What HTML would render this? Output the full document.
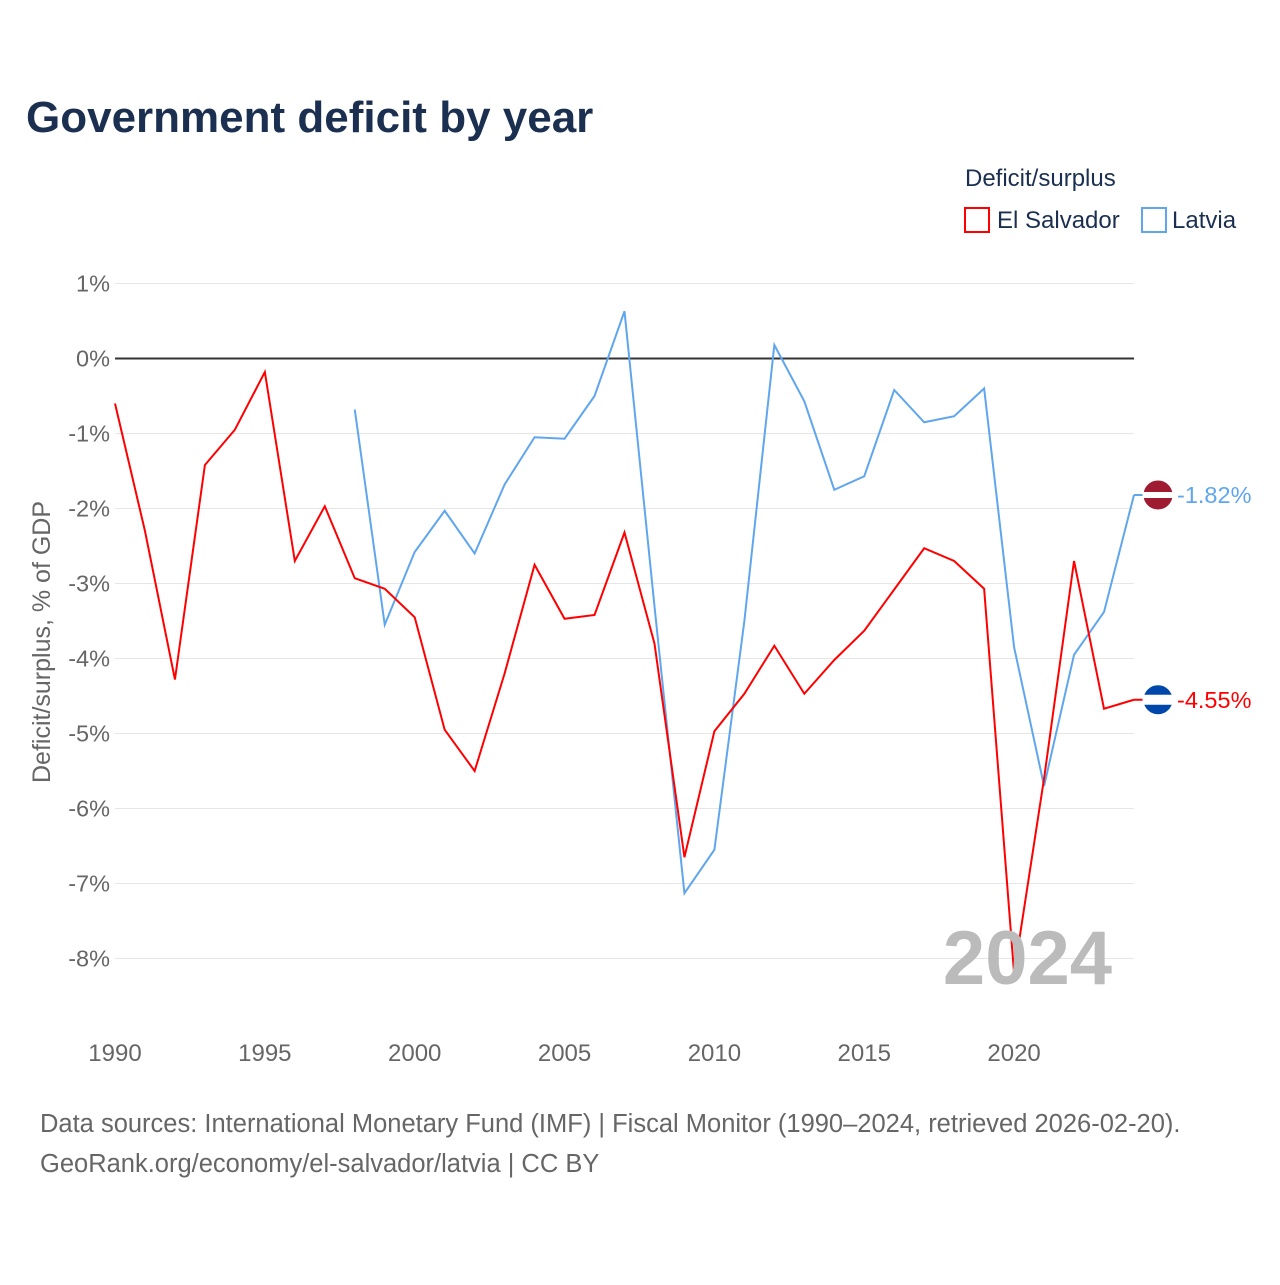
<!DOCTYPE html>
<html><head><meta charset="utf-8"><style>
body{margin:0;background:#fff;font-family:"Liberation Sans",sans-serif;}
#wrap{position:relative;width:1280px;height:1280px;}
</style></head><body>
<div id="wrap">
<svg id="chart" width="1280" height="1280">
<text x="26" y="132" font-size="44" font-weight="bold" fill="#1b3050">Government deficit by year</text>
<text x="965" y="186" font-size="24" fill="#1b3050">Deficit/surplus</text>
<g><rect x="965" y="208" width="24" height="24" fill="none" stroke="#f00" stroke-width="2"/><text x="997" y="228" font-size="24" fill="#1b3050">El Salvador</text></g>
<g><rect x="1142" y="208" width="24" height="24" fill="none" stroke="#5fa6ee" stroke-width="2"/><text x="1172" y="228" font-size="24" fill="#1b3050">Latvia</text></g>
<g id="grid"></g><g id="yt"></g><g id="xt"></g><g id="lines"></g>
<text x="0" y="0" transform="translate(50,642) rotate(-90)" text-anchor="middle" font-size="25" fill="#666">Deficit/surplus, % of GDP</text>
<text x="1112" y="984" text-anchor="end" font-size="76" font-weight="bold" fill="#bbb">2024</text>
<text x="40" y="1132" font-size="25.5" fill="#666">Data sources: International Monetary Fund (IMF) | Fiscal Monitor (1990–2024, retrieved 2026-02-20).</text>
<text x="40" y="1172" font-size="25.5" fill="#666">GeoRank.org/economy/el-salvador/latvia | CC BY</text>
</svg></div>
<script>
const yTicks=[1,0,-1,-2,-3,-4,-5,-6,-7,-8];
const xTicks=[1990,1995,2000,2005,2010,2015,2020];
const elsYears=[1990,1991,1992,1993,1994,1995,1996,1997,1998,1999,2000,2001,2002,2003,2004,2005,2006,2007,2008,2009,2010,2011,2012,2013,2014,2015,2016,2017,2018,2019,2020,2021,2022,2023,2024];
const elsValues=[-0.6,-2.3,-4.28,-1.42,-0.95,-0.18,-2.7,-1.97,-2.93,-3.07,-3.45,-4.95,-5.5,-4.2,-2.75,-3.47,-3.42,-2.32,-3.8,-6.65,-4.97,-4.47,-3.83,-4.47,-4.02,-3.63,-3.08,-2.53,-2.7,-3.07,-8.2,-5.6,-2.7,-4.67,-4.55];
const lvaYears=[1998,1999,2000,2001,2002,2003,2004,2005,2006,2007,2008,2009,2010,2011,2012,2013,2014,2015,2016,2017,2018,2019,2020,2021,2022,2023,2024];
const lvaValues=[-0.68,-3.55,-2.58,-2.03,-2.6,-1.68,-1.05,-1.07,-0.5,0.63,-3.3,-7.13,-6.55,-3.5,0.18,-0.57,-1.75,-1.57,-0.42,-0.85,-0.77,-0.4,-3.85,-5.7,-3.95,-3.38,-1.82];
const NS='http://www.w3.org/2000/svg';
const X=y=>115+(y-1990)*29.97;
const Y=v=>358.5-75*v;
function mk(t,a,p){const e=document.createElementNS(NS,t);for(const k in a)e.setAttribute(k,a[k]);document.getElementById(p).appendChild(e);return e;}
yTicks.forEach(v=>{
 const l=mk('line',{x1:115,x2:1134,y1:Y(v),y2:Y(v),stroke:v===0?'#333':'#e6e6e6','stroke-width':v===0?2:1},'grid');
 
 
 const t=mk('text',{x:110,y:Y(v)+8,'text-anchor':'end','font-size':23.5,fill:'#666'},'yt');
 t.textContent=v+'%';
 
 
});
xTicks.forEach(y=>{
 const t=mk('text',{x:X(y),y:1061,'text-anchor':'middle','font-size':24,fill:'#666'},'xt');
 t.textContent=y;
 
 
});
function series(ys,vs,col,name){
 const p=mk('polyline',{points:ys.map((y,i)=>X(y)+','+Y(vs[i])).join(' '),fill:'none',stroke:col,'stroke-width':2},'lines');
 
 
 const last=vs[vs.length-1],ly=Y(last),lx=X(ys[ys.length-1]);
 mk('line',{x1:lx,x2:lx+10,y1:ly,y2:ly,stroke:col,'stroke-width':2},'lines');
 const c=mk('circle',{cx:1158,cy:ly,r:15,fill:name==='latvia'?'#9e1b32':'#0047ab',stroke:'#fff','stroke-width':1},'lines');
 
 
 mk('rect',{x:1143,y:ly-(name==='latvia'?3:5),width:30,height:name==='latvia'?6:10,fill:'#fff'},'lines');
 const t=mk('text',{x:1177,y:ly+8,'font-size':23.5,fill:col},'lines');
 t.textContent=last.toFixed(2)+'%';
 
 
}
series(lvaYears,lvaValues,'#5fa6ee','latvia');
series(elsYears,elsValues,'#f00','el-salvador');
</script>
</body></html>
